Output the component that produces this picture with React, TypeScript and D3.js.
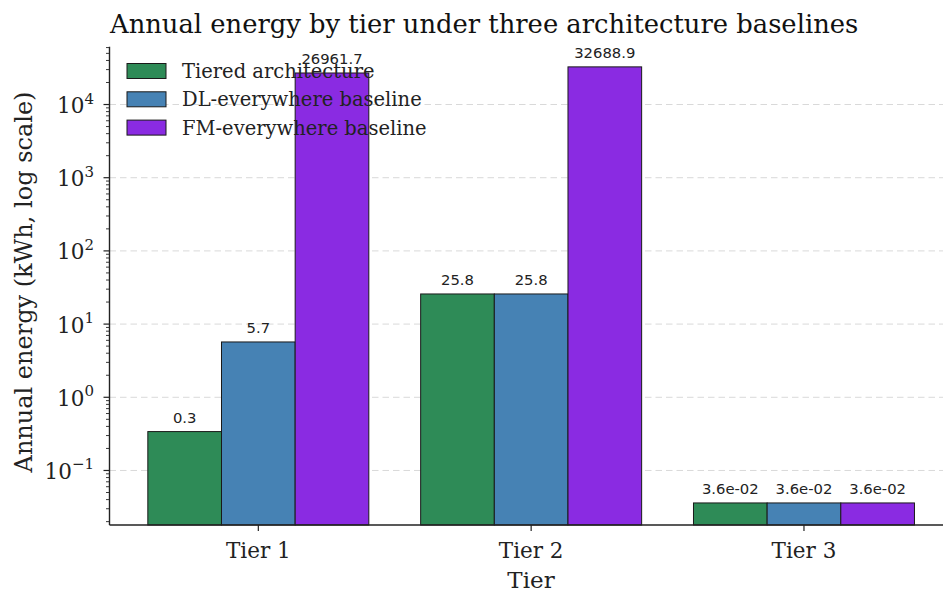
import React, { useEffect, useRef } from 'react';
import * as d3 from 'd3';

const tiers = ['Tier 1', 'Tier 2', 'Tier 3'];
const seriesNames = ['Tiered architecture', 'DL-everywhere baseline', 'FM-everywhere baseline'];
const tieredValues = [0.34, 25.8, 0.036];
const dlValues = [5.7, 25.8, 0.036];
const fmValues = [26961.7, 32688.9, 0.036];
const seriesColors = ['#2e8b57', '#4682b4', '#8a2be2'];
const yTickExponents = [-1, 0, 1, 2, 3, 4];

const W = 943;
const H = 590;
const M = { left: 109.5, right: 952.8, top: 46.7, bottom: 525 };
const SERIF = '"DejaVu Serif", serif';
const SANS = '"DejaVu Sans", sans-serif';

const fmtLabel = (v: number) => {
  if (v >= 0.1) return v.toFixed(1);
  const [m, e] = v.toExponential(1).split('e');
  const n = Math.abs(+e);
  return `${m}e${+e < 0 ? '-' : '+'}${n < 10 ? '0' + n : n}`;
};

const App: React.FC = () => {
  const svgRef = useRef<SVGSVGElement>(null);

  useEffect(() => {
    if (!svgRef.current) return;
    const svg = d3.select(svgRef.current);
    svg.selectAll('*').remove();

    const series = [tieredValues, dlValues, fmValues];
    const barW = 0.27;

    const x = d3.scaleLinear().domain([-0.5455, 2.5455]).range([M.left, M.right]);
    const y = d3.scaleLog().domain([Math.pow(10, -1.745), Math.pow(10, 4.79)]).range([M.bottom, M.top]);

    // grid
    svg.append('g')
      .selectAll('line')
      .data(yTickExponents)
      .join('line')
      .attr('x1', M.left)
      .attr('x2', W)
      .attr('y1', (d) => y(Math.pow(10, d)))
      .attr('y2', (d) => y(Math.pow(10, d)))
      .attr('stroke', '#d9d9d9')
      .attr('stroke-width', 1)
      .attr('stroke-dasharray', '6.5,4');

    // bars + value labels
    series.forEach((vals, j) => {
      const g = svg.append('g');
      g.selectAll('rect')
        .data(vals)
        .join('rect')
        .attr('x', (_, i) => x(i + (j - 1) * barW - barW / 2))
        .attr('width', x(barW) - x(0))
        .attr('y', (d) => y(d))
        .attr('height', (d) => M.bottom - y(d))
        .attr('fill', seriesColors[j])
        .attr('stroke', '#1a1a1a')
        .attr('stroke-width', 1);

      g.selectAll('text')
        .data(vals)
        .join('text')
        .attr('x', (_, i) => x(i + (j - 1) * barW))
        .attr('y', (d) => y(d) - 9)
        .attr('text-anchor', 'middle')
        .attr('font-family', SANS)
        .attr('font-size', 14.8)
        .attr('fill', '#222')
        .text((d) => fmtLabel(d));
    });

    // y minor ticks
    const minor: number[] = [];
    for (let e = -2; e <= 4; e++) {
      for (let k = 2; k <= 9; k++) {
        const v = k * Math.pow(10, e);
        if (v >= y.domain()[0] && v <= y.domain()[1]) minor.push(v);
      }
    }
    svg.append('g')
      .selectAll('line')
      .data(minor)
      .join('line')
      .attr('x1', M.left - 3.5)
      .attr('x2', M.left)
      .attr('y1', (d) => y(d))
      .attr('y2', (d) => y(d))
      .attr('stroke', '#222')
      .attr('stroke-width', 0.9);

    // y major ticks
    const yt = svg.append('g')
      .selectAll('g')
      .data(yTickExponents)
      .join('g')
      .attr('transform', (d) => `translate(0,${y(Math.pow(10, d))})`);
    yt.append('line')
      .attr('x1', M.left - 6)
      .attr('x2', M.left)
      .attr('stroke', '#222')
      .attr('stroke-width', 1.2);
    const ytx = yt.append('text')
      .attr('x', 94)
      .attr('y', 8.5)
      .attr('text-anchor', 'end')
      .attr('font-family', SERIF)
      .attr('font-size', 21.5)
      .attr('fill', '#222');
    ytx.append('tspan').text('10');
    ytx.append('tspan')
      .attr('dy', -9.5)
      .attr('font-size', 15)
      .text((d) => (d < 0 ? '\u2212' + Math.abs(d) : String(d)));

    // x ticks
    const xt = svg.append('g')
      .selectAll('g')
      .data(tiers)
      .join('g')
      .attr('transform', (_, i) => `translate(${x(i)},${M.bottom})`);
    xt.append('line')
      .attr('y2', 6)
      .attr('stroke', '#222')
      .attr('stroke-width', 1.2);
    xt.append('text')
      .attr('y', 32.5)
      .attr('text-anchor', 'middle')
      .attr('font-family', SERIF)
      .attr('font-size', 21.5)
      .attr('fill', '#222')
      .text((d) => d);

    // spines
    svg.append('line')
      .attr('x1', M.left).attr('x2', M.left)
      .attr('y1', M.top).attr('y2', M.bottom)
      .attr('stroke', '#222').attr('stroke-width', 1.4);
    svg.append('line')
      .attr('x1', M.left).attr('x2', W)
      .attr('y1', M.bottom).attr('y2', M.bottom)
      .attr('stroke', '#222').attr('stroke-width', 1.4);

    // axis labels
    svg.append('text')
      .attr('x', 531)
      .attr('y', 588)
      .attr('text-anchor', 'middle')
      .attr('font-family', SERIF)
      .attr('font-size', 23)
      .attr('fill', '#222')
      .text('Tier');
    svg.append('text')
      .attr('transform', `translate(31.5,282) rotate(-90)`)
      .attr('text-anchor', 'middle')
      .attr('font-family', SERIF)
      .attr('font-size', 24)
      .attr('fill', '#222')
      .text('Annual energy (kWh, log scale)');

    // title
    svg.append('text')
      .attr('x', 110)
      .attr('y', 33)
      .attr('font-family', SERIF)
      .attr('font-size', 25.8)
      .attr('fill', '#111')
      .text('Annual energy by tier under three architecture baselines');

    // legend
    const lg = svg.append('g')
      .selectAll('g')
      .data(seriesNames)
      .join('g')
      .attr('transform', (_, i) => `translate(127,${71 + i * 28.3})`);
    lg.append('rect')
      .attr('y', -7.5)
      .attr('width', 39)
      .attr('height', 15)
      .attr('fill', (_, i) => seriesColors[i])
      .attr('stroke', '#1a1a1a')
      .attr('stroke-width', 1);
    lg.append('text')
      .attr('x', 55)
      .attr('y', 7)
      .attr('font-family', SERIF)
      .attr('font-size', 19.5)
      .attr('fill', '#222')
      .text((d) => d);
  }, []);

  return (
    <svg
      ref={svgRef}
      width={W}
      height={H}
      viewBox={`0 0 ${W} ${H}`}
      style={{ position: 'absolute', left: 0, top: 0, background: '#fff' }}
    />
  );
};

export default App;
